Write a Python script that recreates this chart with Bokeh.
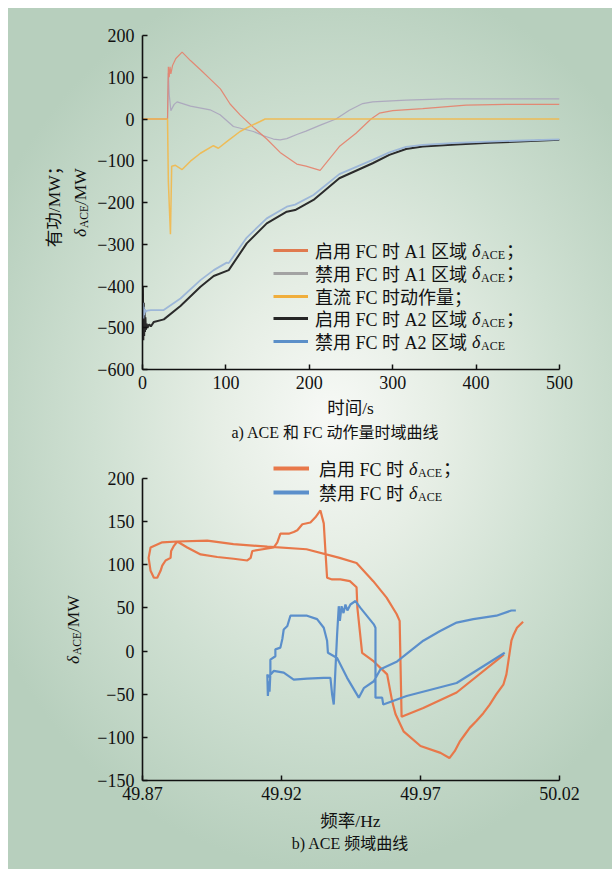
import math
from bokeh.plotting import figure
from bokeh.models import (Range1d, FixedTicker, CustomJSTickFormatter, Label,
                          Legend, LegendItem)
from bokeh.layouts import column
from bokeh.embed import file_html
from bokeh.resources import INLINE

# ---------------- data: (a) time domain ----------------
t_a1_on = [0, 30, 31, 32, 33, 34, 36, 40, 47.5, 57.5, 69.5, 80, 93.4, 105, 117, 133, 149, 165,
           185, 196, 213, 236, 256, 274, 284, 300, 336, 388, 436, 500]
v_a1_on = [0, 0, 125, 100, 125, 108, 128, 145, 160, 140, 118, 98, 72, 36, 10, -20, -48, -80,
           -108, -113, -123, -66, -34, 0, 14, 20, 25, 33, 35, 35]

t_a1_off = [0, 30, 31, 32, 34, 38, 41.5, 57.5, 81, 93, 109, 133, 145, 157, 165, 173, 185, 196,
            214, 232, 248, 264, 276, 316, 364, 500]
v_a1_off = [0, 0, 110, 60, 20, 35, 41, 31, 22, 10, -18, -30, -40, -48, -50, -47, -37, -29,
            -14, 0, 21, 37, 41, 45, 48, 48]

t_dc = [0, 30, 31, 33.5, 35, 39.5, 47.5, 57.5, 69.5, 85, 91, 101, 117, 129, 141, 147, 500]
v_dc = [0, 0, -150, -276, -113, -111, -121, -101, -82, -64, -70, -54, -30, -17, -6, 0, 0]

t_a2_on = [0, 0.5, 1, 1.5, 2, 2.5, 3, 3.5, 4, 5, 6, 8, 10, 13.6, 25.6, 45.5, 69.5, 85.4, 103.4,
           125, 149, 173, 183, 205, 236, 276, 296, 316, 336, 376, 416, 500]
v_a2_on = [-480, -400, -530, -440, -520, -460, -510, -475, -505, -490, -500, -492, -497, -486,
           -480, -448, -402, -376, -362, -298, -250, -222, -218, -194, -142, -106, -86, -72,
           -66, -61, -57, -50]

t_a2_off = [0, 0.5, 1, 1.5, 2, 3, 4, 5.6, 10, 25, 45.5, 69.5, 85.4, 101, 103.4, 125, 149, 173,
            183, 205, 236, 276, 296, 316, 336, 376, 416, 500]
v_a2_off = [-465, -440, -478, -450, -470, -456, -462, -459, -458, -458, -430, -386, -362, -344,
            -345, -284, -238, -210, -205, -182, -132, -98, -80, -67, -62, -57, -54, -49]

# ---------------- data: (b) frequency domain ----------------
f_on = [50.0000, 49.9830, 49.9710, 49.9632, 49.9625, 49.9614, 49.9578, 49.9530, 49.9470,
        49.9409, 49.9290, 49.9149, 49.9027, 49.8933, 49.8825, 49.8771, 49.8729, 49.8722,
        49.8729, 49.8741, 49.8753, 49.8765, 49.8771, 49.8783, 49.8801, 49.8803, 49.8813,
        49.8825, 49.8861, 49.8909, 49.8969, 49.9028, 49.9077, 49.9089, 49.9095, 49.9172,
        49.9185, 49.9196, 49.9226, 49.9244, 49.9257, 49.9275, 49.9304, 49.9322, 49.9340,
        49.9352, 49.9358, 49.9364, 49.9382, 49.9412, 49.9446, 49.9470, 49.9473, 49.9490,
        49.9532, 49.9580, 49.9598, 49.9610, 49.9639, 49.9700, 49.9772, 49.9804, 49.9823,
        49.9841, 49.9859, 49.9877, 49.9901, 49.9926, 49.9949, 49.9973, 49.9998, 50.0009,
        50.0016, 50.0027, 50.0035, 50.0047, 50.0069]
d_on = [-4, -48, -66, -76, 35, 43, 62, 81, 102, 108, 118, 121, 124, 128, 127, 126, 120, 108,
        93, 85, 85, 93, 99, 105, 108, 116, 122, 127, 120, 112, 109, 107, 105, 108, 116, 120,
        126, 136, 136, 138, 140, 147, 149, 155, 163, 148, 116, 85, 83, 83, 81, 74, 50, -2,
        -12, -27, -58, -73, -93, -110, -118, -124, -116, -105, -97, -89, -81, -72, -62, -50,
        -39, -27, -12, 12, 19, 27, 34]

f_off = [50.0003, 49.9830, 49.9650, 49.9566, 49.9562, 49.9538, 49.9538, 49.9532, 49.9484,
         49.9466, 49.9448, 49.9437, 49.9430, 49.9423, 49.9416, 49.9410, 49.9406, 49.9400,
         49.9388, 49.9382, 49.9376, 49.9352, 49.9292, 49.9244, 49.9208, 49.9172, 49.9153,
         49.9149, 49.9151, 49.9155, 49.9157, 49.9160, 49.9160, 49.9178, 49.9178, 49.9196,
         49.9203, 49.9208, 49.9221, 49.9232, 49.9292, 49.9328, 49.9352, 49.9364, 49.9367,
         49.9400, 49.9436, 49.9478, 49.9496, 49.9532, 49.9556, 49.9616, 49.9710, 49.9769,
         49.9830, 49.9890, 49.9973, 50.0027, 50.0043]
d_off = [-2, -37, -52, -62, -54, -54, 27, 31, 50, 58, 54, 47, 54, 44, 52, 35, 52, 19, -62,
         -50, -31, -31, -32, -33, -25, -23, -30, -27, -52, -35, -47, -26, -10, -6, 2, 4, 14,
         25, 29, 41, 41, 37, 27, 12, -2, -8, -31, -54, -43, -35, -21, -12, 12, 23, 33, 37,
         41, 47, 47]

a_xticks = [0, 100, 200, 300, 400, 500]
a_yticks = [-600, -500, -400, -300, -200, -100, 0, 100, 200]
b_xticks = [49.87, 49.92, 49.97, 50.02]
b_yticks = [-150, -100, -50, 0, 50, 100, 150, 200]

# ---------------- style / geometry (page pixels, origin top-left) ----------------
SERIF = "'Liberation Serif', 'Noto Sans CJK SC'"
TXT = "#111111"
W = 612
H1, H2 = 448, 421
FX0, FX1 = 142, 559            # frame left/right
A_Y0, A_Y1 = 35, 369           # panel a: y=200 and y=-600
B_Y0, B_Y1 = 478, 780          # panel b: y=200 and y=-150
B_FTOP = 452                   # panel b frame top (room for legend)

minus_fmt = CustomJSTickFormatter(code="return (tick < 0 ? '\u2212' : '') + Math.abs(tick).toString();")


def style_axes(p):
    for ax in (p.xaxis[0], p.yaxis[0]):
        ax.axis_line_width = 1.6
        ax.axis_line_color = TXT
        ax.major_tick_line_color = TXT
        ax.major_tick_line_width = 1.5
        ax.major_tick_in = 5
        ax.major_tick_out = 0
        ax.minor_tick_line_color = None
        ax.major_label_text_font = SERIF
        ax.major_label_text_font_size = "18px"
        ax.major_label_text_color = TXT
    p.xaxis[0].major_label_standoff = 6
    p.yaxis[0].major_label_standoff = 8
    p.grid.visible = False
    p.outline_line_color = None
    p.background_fill_color = None
    p.border_fill_color = None


def make_fig(h, xr, yr, top, bottom):
    p = figure(width=W, height=h, x_range=xr, y_range=yr, output_backend="svg",
               toolbar_location=None, min_border_left=FX0, min_border_right=W - FX1,
               min_border_top=top, min_border_bottom=bottom)
    style_axes(p)
    return p


def add_text(p, conv, px, py, text, size="17.5px", align="center", angle=0.0,
             italic=False, place="center"):
    x, y = conv(px, py)
    lab = Label(x=x, y=y, text=text, text_font=SERIF, text_font_size=size,
                text_color=TXT, text_align=align, text_baseline="middle",
                angle=angle, text_font_style="italic" if italic else "normal")
    p.add_layout(lab, place)


def one_legend(p, renderer, text, gx, cy, frame_bottom, glyph_w, standoff, h=26):
    leg = Legend(items=[LegendItem(label=text, renderers=[renderer])],
                 location=(gx - FX0, frame_bottom - (cy + h / 2)),
                 glyph_width=glyph_w, glyph_height=h, label_height=h, spacing=0,
                 label_standoff=standoff, padding=0, margin=0,
                 background_fill_alpha=0, border_line_color=None,
                 label_text_font=SERIF, label_text_font_size="18px", label_text_color=TXT)
    p.add_layout(leg)


NAN = float("nan")

# ================= (a) =================
p1 = make_fig(H1, Range1d(0, 500), Range1d(-600, 200), A_Y0, H1 - A_Y1)
p1.xaxis[0].ticker = FixedTicker(ticks=a_xticks)
p1.yaxis[0].ticker = FixedTicker(ticks=a_yticks)
p1.yaxis[0].formatter = minus_fmt
p1.xaxis[0].formatter = minus_fmt


def conv_a(px, py):
    return ((px - FX0) / (FX1 - FX0) * 500, 200 - (py - A_Y0) / (A_Y1 - A_Y0) * 800)


c_or, c_gy, c_ye, c_bk, c_bl = "#e07a4f", "#a3a3a3", "#f0ae3c", "#262626", "#5b8fc8"

p1.line(t_a2_on, v_a2_on, line_color="#2b2b2b", line_width=2.0)
p1.line(t_a2_off, v_a2_off, line_color="#9db7d8", line_width=1.8)
p1.line(t_a1_off, v_a1_off, line_color="#aaa4bc", line_width=1.2, line_alpha=0.9)
p1.line(t_a1_on, v_a1_on, line_color="#e5806a", line_width=1.2, line_alpha=0.9)
p1.line(t_dc, v_dc, line_color="#f2b84a", line_width=1.5, line_alpha=0.9)

leg_cols = [c_or, c_gy, c_ye, c_bk, c_bl]
leg_txt = ["启用 FC 时 A1 区域", "禁用 FC 时 A1 区域", "直流 FC 时动作量；",
           "启用 FC 时 A2 区域", "禁用 FC 时 A2 区域"]
row_y = [250, 272.75, 295.5, 318.25, 341]
for c, t, cy in zip(leg_cols, leg_txt, row_y):
    r = p1.line([NAN], [NAN], line_color=c, line_width=3.2)
    one_legend(p1, r, t, 273, cy, A_Y1, 35, 7)

DX = 471.5
for i in (0, 1, 3, 4):
    add_text(p1, conv_a, DX, row_y[i], "δ", size="18px", align="left", italic=True)
    add_text(p1, conv_a, DX + 9, row_y[i] + 4.5, "ACE", size="12px", align="left")
    if i != 4:
        add_text(p1, conv_a, DX + 34, row_y[i], "；", size="18px", align="left")

# axis titles (outside the frame -> side panels)
add_text(p1, conv_a, 53, 202, "有功/MW；", angle=math.pi / 2, place="left")
add_text(p1, conv_a, 79, 236.4, "δ", align="left", angle=math.pi / 2, italic=True, place="left")
add_text(p1, conv_a, 83, 227.6, "ACE", size="11.5px", align="left", angle=math.pi / 2, place="left")
add_text(p1, conv_a, 79, 204.6, "/MW", align="left", angle=math.pi / 2, place="left")
add_text(p1, conv_a, 350, 407, "时间/s", place="below")
add_text(p1, conv_a, 335, 432, "a) ACE 和 FC 动作量时域曲线", size="16px", place="below")

# ================= (b) =================
b_top = 200 + (B_Y0 - B_FTOP) * 350 / (B_Y1 - B_Y0)
p2 = make_fig(H2, Range1d(49.87, 50.02), Range1d(-150, b_top), B_FTOP - H1, H1 + H2 - B_Y1)
p2.xaxis[0].ticker = FixedTicker(ticks=b_xticks)
p2.yaxis[0].ticker = FixedTicker(ticks=b_yticks)
p2.yaxis[0].bounds = (-150, 200)
p2.yaxis[0].formatter = minus_fmt
p2.xaxis[0].formatter = CustomJSTickFormatter(code="return tick.toFixed(2);")


def conv_b(px, py):
    return (49.87 + (px - FX0) / (FX1 - FX0) * 0.15, 200 - (py - B_Y0) / (B_Y1 - B_Y0) * 350)


p2.line(f_on, d_on, line_color="#e8784a", line_width=2.2)
p2.line(f_off, d_off, line_color="#5b8fcb", line_width=2.2)

rb = [468, 492]
for c, t, cy in zip(["#e8784a", "#5b8fcb"], ["启用 FC 时", "禁用 FC 时"], rb):
    r = p2.line([NAN], [NAN], line_color=c, line_width=3.8)
    one_legend(p2, r, t, 273, cy, B_Y1, 36, 10)

DXB = 408.5
for i in (0, 1):
    add_text(p2, conv_b, DXB, rb[i], "δ", size="18px", align="left", italic=True)
    add_text(p2, conv_b, DXB + 9, rb[i] + 4.5, "ACE", size="12px", align="left")
    if i == 0:
        add_text(p2, conv_b, DXB + 34, rb[i], "；", size="18px", align="left")

add_text(p2, conv_b, 72, 663.4, "δ", align="left", angle=math.pi / 2, italic=True, place="left")
add_text(p2, conv_b, 76, 654.6, "ACE", size="11.5px", align="left", angle=math.pi / 2, place="left")
add_text(p2, conv_b, 72, 631.6, "/MW", align="left", angle=math.pi / 2, place="left")
add_text(p2, conv_b, 350, 820, "频率/Hz", place="below")
add_text(p2, conv_b, 350, 843, "b) ACE 频域曲线", size="16px", place="below")

bg = ("linear-gradient(#ffffff, #ffffff) 0 0 / 100% 8px no-repeat, "
      "linear-gradient(#ffffff, #ffffff) 0 0 / 8px 100% no-repeat, "
      "radial-gradient(ellipse 62% 52% at 54% 48%, #f7f9f6 0%, #e6eee5 30%, "
      "#cfe0d2 62%, #b7cfbd 100%)")
layout = column(p1, p2, width=W, height=H1 + H2, spacing=0, styles={"background": bg})

open("out.html", "w").write(file_html(layout, INLINE))
